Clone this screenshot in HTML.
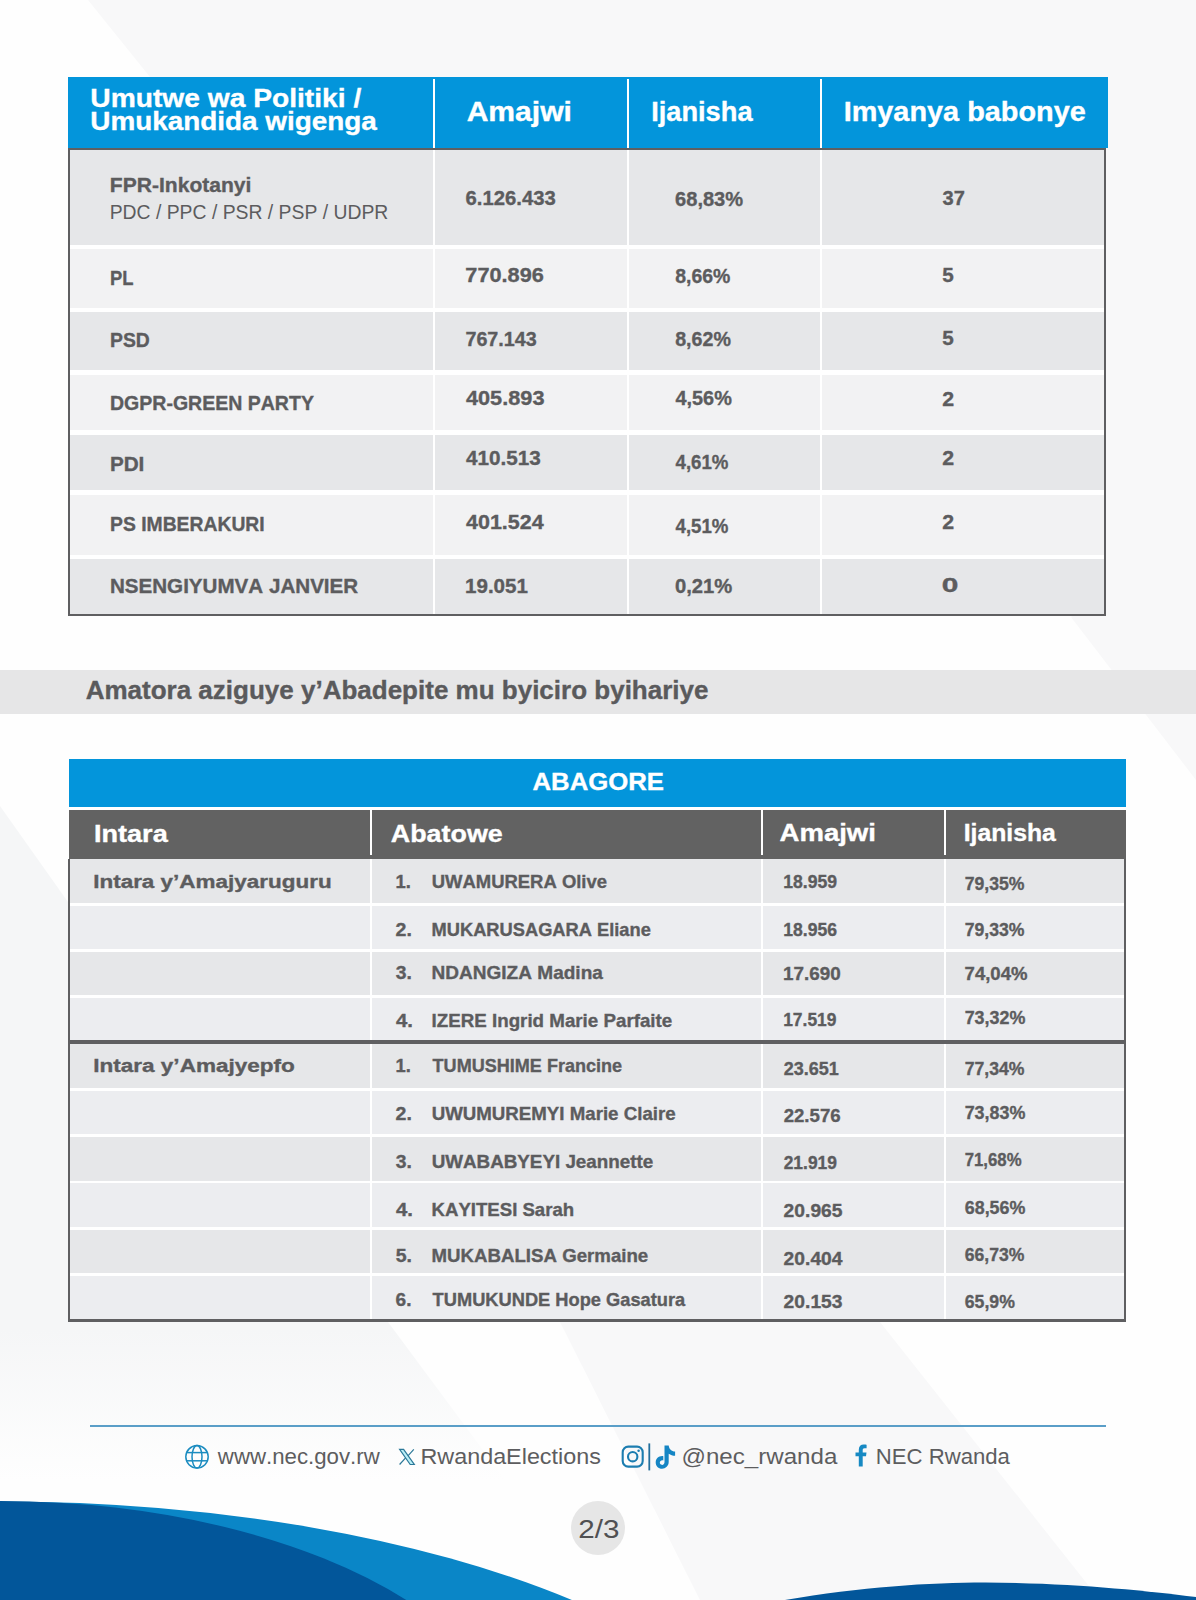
<!DOCTYPE html>
<html lang="rw">
<head>
<meta charset="utf-8">
<title>Amatora y'Abadepite 2/3</title>
<style>
html,body{margin:0;padding:0}
body{width:1196px;height:1600px;position:relative;overflow:hidden;background:#fefefe;font-family:"Liberation Sans",Arial,sans-serif}
.a{position:absolute}
.bg{left:0;top:0}
.blue{background:#0395db}
.dk{background:#e6e7e9}
.lt1{background:#f2f2f3}
.lt2{background:#ecedf0}
.wh{background:#ffffff}
.bd{background:#5f5f61}
.hd{background:#626262}
svg.txt{position:absolute;left:0;top:0;font-family:"Liberation Sans",Arial,sans-serif;font-kerning:none}
</style>
</head>
<body>
<!-- background decorative shapes -->
<svg class="a bg" width="1196" height="1600" viewBox="0 0 1196 1600">
  <rect width="1196" height="1600" fill="#fefefe"/>
  <polygon points="88,0 1196,0 1196,780 1071.5,617.7 1071.5,616 150,77" fill="#f8f8f9"/>
  <defs><linearGradient id="gl" gradientUnits="userSpaceOnUse" x1="0" y1="1330" x2="0" y2="1480"><stop offset="0" stop-color="#f5f6f7"/><stop offset="1" stop-color="#fefefe"/></linearGradient></defs>
  <polygon points="0,806 68,902 68,1322 388,1322 520,1500 0,1500" fill="url(#gl)"/>
  <polygon points="560,1322 880,1322 1100,1600 700,1600" fill="#f8f8f9"/>
  <!-- waves -->
  <path d="M0,1600 L0,1501.5 A800,327.5 0 0 1 571.9,1600 Z" fill="#0a86c7"/>
  <path d="M0,1600 L0,1501 A525,270 0 0 1 406.3,1600 Z" fill="#02569a"/>
  <path d="M785,1600 C860,1587 930,1582.5 985,1582.5 C1070,1583 1140,1590 1196,1597 L1196,1600 Z" fill="#02569a"/>
</svg>

<!-- ===== TABLE 1 ===== -->
<div class="a blue" style="left:68px;top:77px;width:1040px;height:71px"></div>
<div class="a wh" style="left:433px;top:79px;width:2px;height:69px"></div>
<div class="a wh" style="left:627px;top:79px;width:2px;height:69px"></div>
<div class="a wh" style="left:820px;top:79px;width:2px;height:69px"></div>
<div class="a bd" style="left:68px;top:148px;width:1038px;height:2px"></div>
<div class="a wh" style="left:70px;top:150px;width:1034px;height:464px"></div>
<div class="a dk" style="left:70px;top:150px;width:1034px;height:95px"></div>
<div class="a lt1" style="left:70px;top:249px;width:1034px;height:59px"></div>
<div class="a dk" style="left:70px;top:312px;width:1034px;height:58px"></div>
<div class="a lt1" style="left:70px;top:375px;width:1034px;height:55px"></div>
<div class="a dk" style="left:70px;top:435px;width:1034px;height:55px"></div>
<div class="a lt1" style="left:70px;top:495px;width:1034px;height:60px"></div>
<div class="a dk" style="left:70px;top:559px;width:1034px;height:55px"></div>
<div class="a wh" style="left:433px;top:150px;width:2px;height:464px"></div>
<div class="a wh" style="left:627px;top:150px;width:2px;height:464px"></div>
<div class="a wh" style="left:820px;top:150px;width:2px;height:464px"></div>
<div class="a bd" style="left:68px;top:150px;width:2px;height:466px"></div>
<div class="a bd" style="left:1104px;top:150px;width:2px;height:466px"></div>
<div class="a bd" style="left:68px;top:614px;width:1038px;height:2px"></div>

<!-- ===== SECTION BAND ===== -->
<div class="a" style="left:0px;top:670px;width:1196px;height:44px;background:#e6e6e7"></div>

<!-- ===== TABLE 2 ===== -->
<div class="a blue" style="left:69px;top:759px;width:1057px;height:48px"></div>
<div class="a wh" style="left:69px;top:807px;width:1057px;height:3px"></div>
<div class="a hd" style="left:69px;top:810px;width:1057px;height:49px"></div>
<div class="a wh" style="left:370px;top:810px;width:2px;height:45px"></div>
<div class="a wh" style="left:761px;top:810px;width:2px;height:45px"></div>
<div class="a wh" style="left:944px;top:810px;width:2px;height:45px"></div>
<div class="a wh" style="left:70px;top:859px;width:1054px;height:461px"></div>
<div class="a dk" style="left:70px;top:859px;width:1054px;height:44px"></div>
<div class="a lt2" style="left:70px;top:906px;width:1054px;height:43px"></div>
<div class="a dk" style="left:70px;top:952px;width:1054px;height:43px"></div>
<div class="a lt2" style="left:70px;top:998px;width:1054px;height:42px"></div>
<div class="a dk" style="left:70px;top:1044px;width:1054px;height:44px"></div>
<div class="a lt2" style="left:70px;top:1091px;width:1054px;height:43px"></div>
<div class="a dk" style="left:70px;top:1137px;width:1054px;height:44px"></div>
<div class="a lt2" style="left:70px;top:1183px;width:1054px;height:44px"></div>
<div class="a dk" style="left:70px;top:1230px;width:1054px;height:43px"></div>
<div class="a lt2" style="left:70px;top:1276px;width:1054px;height:43px"></div>
<div class="a bd" style="left:70px;top:1040px;width:1054px;height:4px"></div>
<div class="a wh" style="left:370px;top:859px;width:2px;height:181px"></div>
<div class="a wh" style="left:370px;top:1044px;width:2px;height:275px"></div>
<div class="a wh" style="left:761px;top:859px;width:2px;height:181px"></div>
<div class="a wh" style="left:761px;top:1044px;width:2px;height:275px"></div>
<div class="a wh" style="left:944px;top:859px;width:2px;height:181px"></div>
<div class="a wh" style="left:944px;top:1044px;width:2px;height:275px"></div>
<div class="a bd" style="left:68px;top:859px;width:2px;height:463px"></div>
<div class="a bd" style="left:1124px;top:859px;width:2px;height:463px"></div>
<div class="a bd" style="left:68px;top:1319px;width:1058px;height:3px"></div>

<!-- ===== FOOTER ===== -->
<div class="a" style="left:89.7px;top:1425px;width:1016px;height:1.6px;background:#5a9ec8"></div>
<div class="a" style="left:571.3px;top:1501.3px;width:54px;height:54px;border-radius:50%;background:#e6e6e6"></div>

<svg class="txt" width="1196" height="1600" viewBox="0 0 1196 1600">
<!-- globe icon -->
<g fill="none" stroke="#1b8cc0" stroke-width="1.5">
  <circle cx="197" cy="1456.8" r="11.2"/>
  <ellipse cx="197" cy="1456.8" rx="5" ry="11.2"/>
  <line x1="186.4" y1="1452.6" x2="207.6" y2="1452.6"/>
  <line x1="186.4" y1="1460.8" x2="207.6" y2="1460.8"/>
</g>
<!-- X icon -->
<g stroke="#2b7898" stroke-width="1.2" fill="none">
  <path d="M399.6,1449.4 L403.6,1449.4 L414.3,1464.5 L410.2,1464.5 Z" fill="#b9eef6"/>
  <line x1="399.6" y1="1464.5" x2="405.6" y2="1457.9"/>
  <line x1="408.2" y1="1455.6" x2="413.8" y2="1449.4"/>
</g>
<!-- instagram -->
<g fill="none" stroke="#1c7db0" stroke-width="2.1">
  <rect x="622.7" y="1446.6" width="20" height="20" rx="5.6"/>
  <circle cx="632.7" cy="1456.7" r="4.7"/>
</g>
<circle cx="638.6" cy="1450.7" r="1.25" fill="#1c7db0"/>
<rect x="648.4" y="1443.4" width="1.8" height="27" fill="#236f9c"/>
<!-- tiktok -->
<path d="M664.5,1445.5 h4.2 c0.4,3.6 2.8,5.8 6.4,6.1 v4.2 c-2.4,0 -4.6,-0.8 -6.4,-2.1 v8.4 c0,4 -3.2,6.6 -6.6,6.6 c-3.7,0 -6.4,-2.9 -6.4,-6.3 c0,-3.8 3.3,-6.8 7.6,-6.2 v4.3 c-1.8,-0.6 -3.5,0.6 -3.5,2.1 c0,1.3 1,2.3 2.3,2.3 c1.4,0 2.4,-1.1 2.4,-2.6 z" fill="#1585c4"/>
<!-- facebook f -->
<path d="M858.8,1466.5 v-10.2 h-3.3 v-3.8 h3.3 v-2.8 c0,-3.3 2,-5.1 4.9,-5.1 c1.4,0 2.6,0.1 2.9,0.2 v3.4 h-2 c-1.6,0 -1.9,0.8 -1.9,1.9 v2.4 h3.8 l-0.5,3.8 h-3.3 v10.2 z" fill="#1789c3"/>
<text x="90.31" y="106.80" font-size="26.45" font-weight="700" fill="#ffffff" stroke="#ffffff" stroke-width="0.35" textLength="270.97" lengthAdjust="spacingAndGlyphs">Umutwe wa Politiki /</text>
<text x="90.33" y="129.60" font-size="26.45" font-weight="700" fill="#ffffff" stroke="#ffffff" stroke-width="0.35" textLength="286.50" lengthAdjust="spacingAndGlyphs">Umukandida wigenga</text>
<text x="466.65" y="120.80" font-size="27.33" font-weight="700" fill="#ffffff" stroke="#ffffff" stroke-width="0.35" textLength="105.28" lengthAdjust="spacingAndGlyphs">Amajwi</text>
<text x="651.18" y="120.80" font-size="27.33" font-weight="700" fill="#ffffff" stroke="#ffffff" stroke-width="0.35" textLength="101.35" lengthAdjust="spacingAndGlyphs">Ijanisha</text>
<text x="843.67" y="120.90" font-size="27.33" font-weight="700" fill="#ffffff" stroke="#ffffff" stroke-width="0.35" textLength="242.12" lengthAdjust="spacingAndGlyphs">Imyanya babonye</text>
<text x="109.89" y="192.10" font-size="20.35" font-weight="700" fill="#5c5c5e" stroke="#5c5c5e" stroke-width="0.35" textLength="141.50" lengthAdjust="spacingAndGlyphs">FPR-Inkotanyi</text>
<text x="109.71" y="219.00" font-size="19.48" font-weight="400" fill="#5c5c5e" textLength="278.59" lengthAdjust="spacingAndGlyphs">PDC / PPC / PSR / PSP / UDPR</text>
<text x="110.07" y="285.20" font-size="20.35" font-weight="700" fill="#5c5c5e" stroke="#5c5c5e" stroke-width="0.35" textLength="23.50" lengthAdjust="spacingAndGlyphs">PL</text>
<text x="110.00" y="347.40" font-size="20.35" font-weight="700" fill="#5c5c5e" stroke="#5c5c5e" stroke-width="0.35" textLength="39.81" lengthAdjust="spacingAndGlyphs">PSD</text>
<text x="109.99" y="410.00" font-size="20.35" font-weight="700" fill="#5c5c5e" stroke="#5c5c5e" stroke-width="0.35" textLength="203.92" lengthAdjust="spacingAndGlyphs">DGPR-GREEN PARTY</text>
<text x="109.92" y="471.00" font-size="20.35" font-weight="700" fill="#5c5c5e" stroke="#5c5c5e" stroke-width="0.35" textLength="34.47" lengthAdjust="spacingAndGlyphs">PDI</text>
<text x="110.01" y="531.20" font-size="20.35" font-weight="700" fill="#5c5c5e" stroke="#5c5c5e" stroke-width="0.35" textLength="154.69" lengthAdjust="spacingAndGlyphs">PS IMBERAKURI</text>
<text x="109.92" y="593.10" font-size="20.35" font-weight="700" fill="#5c5c5e" stroke="#5c5c5e" stroke-width="0.35" textLength="248.30" lengthAdjust="spacingAndGlyphs">NSENGIYUMVA JANVIER</text>
<text x="465.56" y="205.40" font-size="20.35" font-weight="700" fill="#5c5c5e" stroke="#5c5c5e" stroke-width="0.35" textLength="90.17" lengthAdjust="spacingAndGlyphs">6.126.433</text>
<text x="465.37" y="282.20" font-size="20.35" font-weight="700" fill="#5c5c5e" stroke="#5c5c5e" stroke-width="0.35" textLength="78.50" lengthAdjust="spacingAndGlyphs">770.896</text>
<text x="465.45" y="345.50" font-size="20.35" font-weight="700" fill="#5c5c5e" stroke="#5c5c5e" stroke-width="0.35" textLength="71.26" lengthAdjust="spacingAndGlyphs">767.143</text>
<text x="465.97" y="405.20" font-size="20.35" font-weight="700" fill="#5c5c5e" stroke="#5c5c5e" stroke-width="0.35" textLength="78.50" lengthAdjust="spacingAndGlyphs">405.893</text>
<text x="465.99" y="465.00" font-size="20.35" font-weight="700" fill="#5c5c5e" stroke="#5c5c5e" stroke-width="0.35" textLength="74.76" lengthAdjust="spacingAndGlyphs">410.513</text>
<text x="465.97" y="528.90" font-size="20.35" font-weight="700" fill="#5c5c5e" stroke="#5c5c5e" stroke-width="0.35" textLength="77.74" lengthAdjust="spacingAndGlyphs">401.524</text>
<text x="465.00" y="592.80" font-size="20.35" font-weight="700" fill="#5c5c5e" stroke="#5c5c5e" stroke-width="0.35" textLength="62.97" lengthAdjust="spacingAndGlyphs">19.051</text>
<text x="675.07" y="206.30" font-size="20.35" font-weight="700" fill="#5c5c5e" stroke="#5c5c5e" stroke-width="0.35" textLength="68.06" lengthAdjust="spacingAndGlyphs">68,83%</text>
<text x="675.18" y="283.00" font-size="20.35" font-weight="700" fill="#5c5c5e" stroke="#5c5c5e" stroke-width="0.35" textLength="55.13" lengthAdjust="spacingAndGlyphs">8,66%</text>
<text x="675.18" y="345.50" font-size="20.35" font-weight="700" fill="#5c5c5e" stroke="#5c5c5e" stroke-width="0.35" textLength="55.74" lengthAdjust="spacingAndGlyphs">8,62%</text>
<text x="675.50" y="405.20" font-size="20.35" font-weight="700" fill="#5c5c5e" stroke="#5c5c5e" stroke-width="0.35" textLength="56.32" lengthAdjust="spacingAndGlyphs">4,56%</text>
<text x="675.52" y="469.20" font-size="20.35" font-weight="700" fill="#5c5c5e" stroke="#5c5c5e" stroke-width="0.35" textLength="52.96" lengthAdjust="spacingAndGlyphs">4,61%</text>
<text x="675.52" y="533.00" font-size="20.35" font-weight="700" fill="#5c5c5e" stroke="#5c5c5e" stroke-width="0.35" textLength="52.96" lengthAdjust="spacingAndGlyphs">4,51%</text>
<text x="675.00" y="592.80" font-size="20.35" font-weight="700" fill="#5c5c5e" stroke="#5c5c5e" stroke-width="0.35" textLength="57.33" lengthAdjust="spacingAndGlyphs">0,21%</text>
<text x="942.54" y="205.20" font-size="20.35" font-weight="700" fill="#5c5c5e" stroke="#5c5c5e" stroke-width="0.35" textLength="22.34" lengthAdjust="spacingAndGlyphs">37</text>
<text x="942.36" y="282.20" font-size="20.35" font-weight="700" fill="#5c5c5e" stroke="#5c5c5e" stroke-width="0.35" textLength="11.51" lengthAdjust="spacingAndGlyphs">5</text>
<text x="942.36" y="345.40" font-size="20.35" font-weight="700" fill="#5c5c5e" stroke="#5c5c5e" stroke-width="0.35" textLength="11.51" lengthAdjust="spacingAndGlyphs">5</text>
<text x="942.26" y="406.20" font-size="20.35" font-weight="700" fill="#5c5c5e" stroke="#5c5c5e" stroke-width="0.35" textLength="11.90" lengthAdjust="spacingAndGlyphs">2</text>
<text x="942.26" y="465.00" font-size="20.35" font-weight="700" fill="#5c5c5e" stroke="#5c5c5e" stroke-width="0.35" textLength="11.90" lengthAdjust="spacingAndGlyphs">2</text>
<text x="942.26" y="529.00" font-size="20.35" font-weight="700" fill="#5c5c5e" stroke="#5c5c5e" stroke-width="0.35" textLength="11.90" lengthAdjust="spacingAndGlyphs">2</text>
<text x="941.82" y="592.00" font-size="20.35" font-weight="700" fill="#5c5c5e" stroke="#5c5c5e" stroke-width="0.35" textLength="16.61" lengthAdjust="spacingAndGlyphs">0</text>
<text x="85.65" y="698.80" font-size="24.86" font-weight="700" fill="#5a5a5c" stroke="#5a5a5c" stroke-width="0.35" textLength="622.84" lengthAdjust="spacingAndGlyphs">Amatora aziguye y’Abadepite mu byiciro byihariye</text>
<text x="532.46" y="790.10" font-size="24.27" font-weight="700" fill="#ffffff" stroke="#ffffff" stroke-width="0.35" textLength="131.55" lengthAdjust="spacingAndGlyphs">ABAGORE</text>
<text x="93.99" y="841.60" font-size="23.84" font-weight="700" fill="#ffffff" stroke="#ffffff" stroke-width="0.35" textLength="73.74" lengthAdjust="spacingAndGlyphs">Intara</text>
<text x="390.83" y="841.60" font-size="23.84" font-weight="700" fill="#ffffff" stroke="#ffffff" stroke-width="0.35" textLength="111.89" lengthAdjust="spacingAndGlyphs">Abatowe</text>
<text x="779.51" y="841.30" font-size="23.84" font-weight="700" fill="#ffffff" stroke="#ffffff" stroke-width="0.35" textLength="96.44" lengthAdjust="spacingAndGlyphs">Amajwi</text>
<text x="963.75" y="841.30" font-size="23.84" font-weight="700" fill="#ffffff" stroke="#ffffff" stroke-width="0.35" textLength="92.10" lengthAdjust="spacingAndGlyphs">Ijanisha</text>
<text x="93.20" y="888.30" font-size="18.90" font-weight="700" fill="#5c5c5e" stroke="#5c5c5e" stroke-width="0.35" textLength="238.48" lengthAdjust="spacingAndGlyphs">Intara y’Amajyaruguru</text>
<text x="93.19" y="1071.90" font-size="18.90" font-weight="700" fill="#5c5c5e" stroke="#5c5c5e" stroke-width="0.35" textLength="201.69" lengthAdjust="spacingAndGlyphs">Intara y’Amajyepfo</text>
<text x="431.69" y="888.40" font-size="18.31" font-weight="700" fill="#5c5c5e" stroke="#5c5c5e" stroke-width="0.35" textLength="175.34" lengthAdjust="spacingAndGlyphs">UWAMURERA Olive</text>
<text x="395.64" y="888.40" font-size="18.31" font-weight="700" fill="#5c5c5e" stroke="#5c5c5e" stroke-width="0.35" textLength="15.35" lengthAdjust="spacingAndGlyphs">1.</text>
<text x="431.58" y="936.30" font-size="18.31" font-weight="700" fill="#5c5c5e" stroke="#5c5c5e" stroke-width="0.35" textLength="219.25" lengthAdjust="spacingAndGlyphs">MUKARUSAGARA Eliane</text>
<text x="395.62" y="936.30" font-size="18.31" font-weight="700" fill="#5c5c5e" stroke="#5c5c5e" stroke-width="0.35" textLength="16.33" lengthAdjust="spacingAndGlyphs">2.</text>
<text x="431.53" y="979.40" font-size="18.31" font-weight="700" fill="#5c5c5e" stroke="#5c5c5e" stroke-width="0.35" textLength="171.35" lengthAdjust="spacingAndGlyphs">NDANGIZA Madina</text>
<text x="395.86" y="979.40" font-size="18.31" font-weight="700" fill="#5c5c5e" stroke="#5c5c5e" stroke-width="0.35" textLength="16.07" lengthAdjust="spacingAndGlyphs">3.</text>
<text x="431.55" y="1027.20" font-size="18.31" font-weight="700" fill="#5c5c5e" stroke="#5c5c5e" stroke-width="0.35" textLength="240.70" lengthAdjust="spacingAndGlyphs">IZERE Ingrid Marie Parfaite</text>
<text x="395.99" y="1027.20" font-size="18.31" font-weight="700" fill="#5c5c5e" stroke="#5c5c5e" stroke-width="0.35" textLength="16.96" lengthAdjust="spacingAndGlyphs">4.</text>
<text x="432.60" y="1072.40" font-size="18.31" font-weight="700" fill="#5c5c5e" stroke="#5c5c5e" stroke-width="0.35" textLength="189.52" lengthAdjust="spacingAndGlyphs">TUMUSHIME Francine</text>
<text x="395.64" y="1072.40" font-size="18.31" font-weight="700" fill="#5c5c5e" stroke="#5c5c5e" stroke-width="0.35" textLength="15.35" lengthAdjust="spacingAndGlyphs">1.</text>
<text x="431.68" y="1120.30" font-size="18.31" font-weight="700" fill="#5c5c5e" stroke="#5c5c5e" stroke-width="0.35" textLength="243.96" lengthAdjust="spacingAndGlyphs">UWUMUREMYI Marie Claire</text>
<text x="395.62" y="1120.30" font-size="18.31" font-weight="700" fill="#5c5c5e" stroke="#5c5c5e" stroke-width="0.35" textLength="16.33" lengthAdjust="spacingAndGlyphs">2.</text>
<text x="431.67" y="1167.80" font-size="18.31" font-weight="700" fill="#5c5c5e" stroke="#5c5c5e" stroke-width="0.35" textLength="221.57" lengthAdjust="spacingAndGlyphs">UWABABYEYI Jeannette</text>
<text x="395.86" y="1167.80" font-size="18.31" font-weight="700" fill="#5c5c5e" stroke="#5c5c5e" stroke-width="0.35" textLength="16.07" lengthAdjust="spacingAndGlyphs">3.</text>
<text x="431.56" y="1215.60" font-size="18.31" font-weight="700" fill="#5c5c5e" stroke="#5c5c5e" stroke-width="0.35" textLength="142.60" lengthAdjust="spacingAndGlyphs">KAYITESI Sarah</text>
<text x="395.99" y="1215.60" font-size="18.31" font-weight="700" fill="#5c5c5e" stroke="#5c5c5e" stroke-width="0.35" textLength="16.96" lengthAdjust="spacingAndGlyphs">4.</text>
<text x="431.55" y="1262.40" font-size="18.31" font-weight="700" fill="#5c5c5e" stroke="#5c5c5e" stroke-width="0.35" textLength="216.69" lengthAdjust="spacingAndGlyphs">MUKABALISA Germaine</text>
<text x="395.70" y="1262.40" font-size="18.31" font-weight="700" fill="#5c5c5e" stroke="#5c5c5e" stroke-width="0.35" textLength="16.24" lengthAdjust="spacingAndGlyphs">5.</text>
<text x="432.59" y="1305.90" font-size="18.31" font-weight="700" fill="#5c5c5e" stroke="#5c5c5e" stroke-width="0.35" textLength="252.69" lengthAdjust="spacingAndGlyphs">TUMUKUNDE Hope Gasatura</text>
<text x="395.60" y="1305.90" font-size="18.31" font-weight="700" fill="#5c5c5e" stroke="#5c5c5e" stroke-width="0.35" textLength="15.91" lengthAdjust="spacingAndGlyphs">6.</text>
<text x="783.19" y="888.30" font-size="18.31" font-weight="700" fill="#5c5c5e" stroke="#5c5c5e" stroke-width="0.35" textLength="53.86" lengthAdjust="spacingAndGlyphs">18.959</text>
<text x="783.19" y="936.00" font-size="18.31" font-weight="700" fill="#5c5c5e" stroke="#5c5c5e" stroke-width="0.35" textLength="53.84" lengthAdjust="spacingAndGlyphs">18.956</text>
<text x="783.11" y="979.50" font-size="18.31" font-weight="700" fill="#5c5c5e" stroke="#5c5c5e" stroke-width="0.35" textLength="57.66" lengthAdjust="spacingAndGlyphs">17.690</text>
<text x="783.20" y="1026.20" font-size="18.31" font-weight="700" fill="#5c5c5e" stroke="#5c5c5e" stroke-width="0.35" textLength="53.27" lengthAdjust="spacingAndGlyphs">17.519</text>
<text x="783.68" y="1074.70" font-size="18.31" font-weight="700" fill="#5c5c5e" stroke="#5c5c5e" stroke-width="0.35" textLength="55.13" lengthAdjust="spacingAndGlyphs">23.651</text>
<text x="783.65" y="1122.40" font-size="18.31" font-weight="700" fill="#5c5c5e" stroke="#5c5c5e" stroke-width="0.35" textLength="57.02" lengthAdjust="spacingAndGlyphs">22.576</text>
<text x="783.70" y="1169.40" font-size="18.31" font-weight="700" fill="#5c5c5e" stroke="#5c5c5e" stroke-width="0.35" textLength="53.27" lengthAdjust="spacingAndGlyphs">21.919</text>
<text x="783.63" y="1217.00" font-size="18.31" font-weight="700" fill="#5c5c5e" stroke="#5c5c5e" stroke-width="0.35" textLength="58.88" lengthAdjust="spacingAndGlyphs">20.965</text>
<text x="783.63" y="1264.70" font-size="18.31" font-weight="700" fill="#5c5c5e" stroke="#5c5c5e" stroke-width="0.35" textLength="58.88" lengthAdjust="spacingAndGlyphs">20.404</text>
<text x="783.63" y="1307.60" font-size="18.31" font-weight="700" fill="#5c5c5e" stroke="#5c5c5e" stroke-width="0.35" textLength="58.88" lengthAdjust="spacingAndGlyphs">20.153</text>
<text x="964.64" y="889.60" font-size="18.31" font-weight="700" fill="#5c5c5e" stroke="#5c5c5e" stroke-width="0.35" textLength="59.82" lengthAdjust="spacingAndGlyphs">79,35%</text>
<text x="964.64" y="936.00" font-size="18.31" font-weight="700" fill="#5c5c5e" stroke="#5c5c5e" stroke-width="0.35" textLength="59.82" lengthAdjust="spacingAndGlyphs">79,33%</text>
<text x="964.60" y="979.50" font-size="18.31" font-weight="700" fill="#5c5c5e" stroke="#5c5c5e" stroke-width="0.35" textLength="62.88" lengthAdjust="spacingAndGlyphs">74,04%</text>
<text x="964.63" y="1024.00" font-size="18.31" font-weight="700" fill="#5c5c5e" stroke="#5c5c5e" stroke-width="0.35" textLength="60.74" lengthAdjust="spacingAndGlyphs">73,32%</text>
<text x="964.64" y="1074.70" font-size="18.31" font-weight="700" fill="#5c5c5e" stroke="#5c5c5e" stroke-width="0.35" textLength="59.82" lengthAdjust="spacingAndGlyphs">77,34%</text>
<text x="964.63" y="1118.60" font-size="18.31" font-weight="700" fill="#5c5c5e" stroke="#5c5c5e" stroke-width="0.35" textLength="60.74" lengthAdjust="spacingAndGlyphs">73,83%</text>
<text x="964.68" y="1165.90" font-size="18.31" font-weight="700" fill="#5c5c5e" stroke="#5c5c5e" stroke-width="0.35" textLength="56.89" lengthAdjust="spacingAndGlyphs">71,68%</text>
<text x="964.75" y="1213.60" font-size="18.31" font-weight="700" fill="#5c5c5e" stroke="#5c5c5e" stroke-width="0.35" textLength="60.63" lengthAdjust="spacingAndGlyphs">68,56%</text>
<text x="964.76" y="1260.60" font-size="18.31" font-weight="700" fill="#5c5c5e" stroke="#5c5c5e" stroke-width="0.35" textLength="59.71" lengthAdjust="spacingAndGlyphs">66,73%</text>
<text x="964.75" y="1308.30" font-size="18.31" font-weight="700" fill="#5c5c5e" stroke="#5c5c5e" stroke-width="0.35" textLength="50.11" lengthAdjust="spacingAndGlyphs">65,9%</text>
<text x="217.83" y="1463.60" font-size="22.09" font-weight="400" fill="#5d5d5f" textLength="161.91" lengthAdjust="spacingAndGlyphs">www.nec.gov.rw</text>
<text x="420.49" y="1464.20" font-size="22.09" font-weight="400" fill="#5d5d5f" textLength="180.36" lengthAdjust="spacingAndGlyphs">RwandaElections</text>
<text x="681.51" y="1464.00" font-size="22.09" font-weight="400" fill="#5d5d5f" textLength="155.79" lengthAdjust="spacingAndGlyphs">@nec_rwanda</text>
<text x="875.78" y="1464.00" font-size="22.09" font-weight="400" fill="#5d5d5f" textLength="134.12" lengthAdjust="spacingAndGlyphs">NEC Rwanda</text>
<text x="578.21" y="1537.50" font-size="25.00" font-weight="400" fill="#505052" textLength="41.19" lengthAdjust="spacingAndGlyphs">2/3</text>
</svg>
</body>
</html>
